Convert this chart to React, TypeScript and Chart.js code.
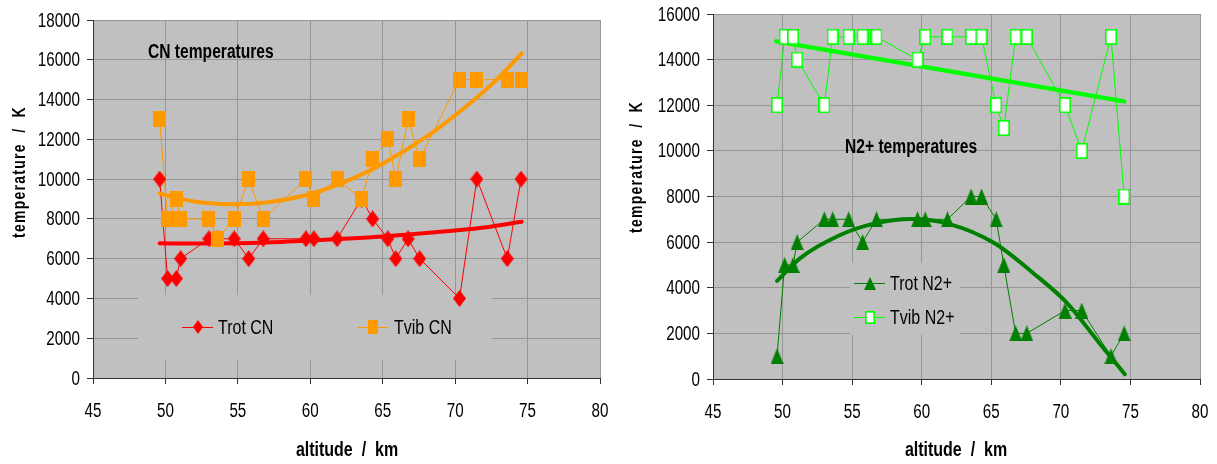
import React, { useEffect, useRef } from 'react';
import { Chart, registerables } from 'chart.js';
Chart.register(...registerables);

// ---------------- data ----------------
const altitudes = [49.6, 50.15, 50.75, 51.05, 53.0, 53.6, 54.75, 55.75, 56.75, 59.7, 60.25, 61.85, 63.55, 64.3, 65.35, 65.9, 66.75, 67.55, 70.3, 71.5, 73.6, 74.55];

const trotCN = [10000, 5000, 5000, 6000, 7000, 7000, 7000, 6000, 7000, 7000, 7000, 7000, 9000, 8000, 7000, 6000, 7000, 6000, 4000, 10000, 6000, 10000];
const tvibCN = [13000, 8000, 9000, 8000, 8000, 7000, 8000, 10000, 8000, 10000, 9000, 10000, 9000, 11000, 12000, 10000, 13000, 11000, 15000, 15000, 15000, 15000];
const trotN2 = [1000, 5000, 5000, 6000, 7000, 7000, 7000, 6000, 7000, 7000, 7000, 7000, 8000, 8000, 7000, 5000, 2000, 2000, 3000, 3000, 1000, 2000];
const tvibN2 = [12000, 15000, 15000, 14000, 12000, 15000, 15000, 15000, 15000, 14000, 15000, 15000, 15000, 15000, 12000, 11000, 15000, 15000, 12000, 10000, 15000, 8000];

// trend lines
const trotCNTrendX = [49.6, 52, 55, 58, 61, 64, 67, 70, 72, 74.6];
const trotCNTrendY = [6770, 6760, 6780, 6840, 6950, 7070, 7230, 7420, 7570, 7860];
const tvibCNTrendX = [49.6, 52, 54.7, 57, 60, 63, 65, 68.5, 70.5, 72.5, 74.6];
const tvibCNTrendY = [9280, 8870, 8730, 8830, 9250, 10050, 10770, 12380, 13500, 14750, 16320];
const trotN2TrendX = [49.6, 51.25, 54.1, 56.5, 59.25, 62, 65.15, 68, 70.4, 72.8, 74.6];
const trotN2TrendY = [4300, 5290, 6300, 6800, 7010, 6790, 5980, 4650, 3360, 1550, 210];
const tvibN2TrendX = [49.55, 74.55];
const tvibN2TrendY = [14800, 12170];

const xTickStep = 5;
const yTickStep = 2000;

const FONT = "'Liberation Sans', Arial, sans-serif";

function pts(xs: number[], ys: number[]) {
  return xs.map((x, i) => ({ x, y: ys[i] }));
}

function marker(kind: string, w: number, h: number, fill: string, stroke?: string) {
  const c = document.createElement('canvas');
  c.width = w;
  c.height = h;
  const ctx = c.getContext('2d')!;
  ctx.fillStyle = fill;
  ctx.beginPath();
  if (kind === 'diamond') {
    ctx.moveTo(w / 2, 0);
    ctx.lineTo(w, h / 2);
    ctx.lineTo(w / 2, h);
    ctx.lineTo(0, h / 2);
    ctx.closePath();
    ctx.fill();
  } else if (kind === 'triangle') {
    ctx.moveTo(w / 2, 0);
    ctx.lineTo(w, h);
    ctx.lineTo(0, h);
    ctx.closePath();
    ctx.fill();
  } else if (kind === 'square') {
    ctx.fillRect(0, 0, w, h);
  } else if (kind === 'open') {
    ctx.fillRect(0, 0, w, h);
    ctx.strokeStyle = stroke || '#0f0';
    ctx.lineWidth = 1.6;
    ctx.strokeRect(0.8, 0.8, w - 1.6, h - 1.6);
  }
  return c;
}

// draw horizontally condensed text (the reference uses a narrow face)
function narrowText(ctx: CanvasRenderingContext2D, text: string, x: number, y: number, font: string, sx: number, align: CanvasTextAlign, spacing = 0, rotate = 0) {
  ctx.save();
  ctx.translate(x, y);
  if (rotate) ctx.rotate(rotate);
  ctx.scale(sx, 1);
  ctx.font = font;
  ctx.textAlign = align;
  ctx.textBaseline = 'middle';
  ctx.fillStyle = '#000';
  try { (ctx as any).letterSpacing = spacing + 'px'; } catch (e) {}
  ctx.fillText(text, 0, 0);
  ctx.restore();
}

type Series = { ys: number[]; color: string; marker: HTMLCanvasElement };
type Trend = { xs: number[]; ys: number[]; color: string; width: number };
type LegendItem = { label: string; color: string; marker: HTMLCanvasElement; x0: number; x1: number; mx: number; y: number; tx: number };

type Spec = {
  W: number; H: number;
  area: { left: number; right: number; top: number; bottom: number };
  yMax: number;
  series: Series[];
  trends: Trend[];
  title: { text: string; x: number; y: number };
  legendBox: [number, number, number, number];
  legend: LegendItem[];
  yTitle: { x: number; y: number };
  xTitle: { x: number; y: number };
};

function build(canvas: HTMLCanvasElement, spec: Spec) {
  const { area } = spec;
  const datasets: any[] = [];
  spec.series.forEach((s) => {
    datasets.push({
      data: pts(altitudes, s.ys),
      showLine: false,
      pointStyle: s.marker,
      pointRadius: 7,
      borderColor: s.color,
      backgroundColor: s.color,
    });
  });
  spec.trends.forEach((t) => {
    datasets.push({
      data: pts(t.xs, t.ys),
      showLine: true,
      pointRadius: 0,
      borderColor: t.color,
      borderWidth: t.width,
      cubicInterpolationMode: 'monotone',
      borderCapStyle: 'round',
    });
  });
  spec.series.forEach((s) => {
    datasets.push({
      data: pts(altitudes, s.ys),
      showLine: true,
      pointRadius: 0,
      borderColor: s.color,
      borderWidth: 1,
      tension: 0,
    });
  });

  const deco = {
    id: 'deco',
    beforeDraw(chart: any) {
      const { ctx, chartArea: a } = chart;
      ctx.save();
      ctx.fillStyle = '#c0c0c0';
      ctx.fillRect(a.left, a.top, a.right - a.left, a.bottom - a.top);
      ctx.restore();
    },
    beforeDatasetsDraw(chart: any) {
      const ctx = chart.ctx;
      ctx.save();
      const [bx, by, bw, bh] = spec.legendBox;
      ctx.fillStyle = '#c0c0c0';
      ctx.fillRect(bx, by, bw, bh);
      spec.legend.forEach((it) => {
        ctx.strokeStyle = it.color;
        ctx.lineWidth = 1;
        ctx.beginPath();
        ctx.moveTo(it.x0, it.y + 0.5);
        ctx.lineTo(it.x1, it.y + 0.5);
        ctx.stroke();
        const m = it.marker;
        ctx.drawImage(m, Math.round(it.mx - m.width / 2), Math.round(it.y - m.height / 2));
        narrowText(ctx, it.label, it.tx, it.y + 1, `20px ${FONT}`, 0.8, 'left');
      });
      ctx.restore();
    },
    afterDraw(chart: any) {
      const ctx = chart.ctx;
      const xs = chart.scales.x;
      const ys = chart.scales.y;
      const a = chart.chartArea;
      // tick labels
      xs.ticks.forEach((t: any) => {
        narrowText(ctx, String(t.value), xs.getPixelForValue(t.value), a.bottom + 33, `20px ${FONT}`, 0.76, 'center');
      });
      ys.ticks.forEach((t: any) => {
        narrowText(ctx, String(t.value), a.left - 13, ys.getPixelForValue(t.value) + 1, `20px ${FONT}`, 0.76, 'right');
      });
      // titles
      narrowText(ctx, spec.title.text, spec.title.x, spec.title.y, `bold 20px ${FONT}`, 0.78, 'left');
      narrowText(ctx, 'altitude  /  km', spec.xTitle.x, spec.xTitle.y, `bold 20px ${FONT}`, 0.8, 'center');
      narrowText(ctx, 'temperature  /  K', spec.yTitle.x, spec.yTitle.y, `bold 18px ${FONT}`, 0.78, 'center', 1.6, -Math.PI / 2);
    },
  };

  return new Chart(canvas, {
    type: 'scatter',
    data: { datasets },
    plugins: [deco],
    options: {
      responsive: false,
      animation: false,
      events: [],
      layout: { padding: { left: 0, right: spec.W - area.right, top: area.top, bottom: 0 } },
      plugins: { legend: { display: false }, tooltip: { enabled: false }, title: { display: false } },
      scales: {
        x: {
          type: 'linear',
          min: 45,
          max: 80,
          ticks: { stepSize: xTickStep, display: false },
          grid: { color: '#969696', tickColor: '#333', tickLength: 6, lineWidth: 1, drawTicks: true },
          border: { color: '#333', width: 1 },
          afterFit(s: any) {
            s.height = spec.H - area.bottom;
            s.paddingLeft = 0;
            s.paddingRight = 0;
          },
        },
        y: {
          type: 'linear',
          min: 0,
          max: spec.yMax,
          ticks: { stepSize: yTickStep, display: false },
          grid: { color: '#969696', tickColor: '#333', tickLength: 6, lineWidth: 1, drawTicks: true },
          border: { color: '#333', width: 1 },
          afterFit(s: any) {
            s.width = area.left;
            s.paddingTop = 0;
            s.paddingBottom = 0;
          },
        },
      },
    } as any,
  });
}

function ChartCanvas({ make, left, W, H }: { make: () => Spec; left: number; W: number; H: number }) {
  const ref = useRef<HTMLCanvasElement>(null);
  useEffect(() => {
    const chart = build(ref.current!, make());
    return () => chart.destroy();
  }, []);
  return (
    <canvas
      ref={ref}
      width={W}
      height={H}
      style={{ position: 'absolute', left, top: 0, width: W, height: H }}
    />
  );
}

const H = 464;
const LW = 612;
const ROFF = 612;
const RW = 1217 - ROFF;

function leftSpec(): Spec {
  const red = marker('diamond', 13, 17, '#ff0000');
  const org = marker('square', 13, 16, '#ff9900');
  return {
    W: LW, H,
    area: { left: 93, right: 600, top: 20, bottom: 378 },
    yMax: 18000,
    series: [
      { ys: tvibCN, color: '#ff9900', marker: org },
      { ys: trotCN, color: '#ff0000', marker: red },
    ],
    trends: [
      { xs: tvibCNTrendX, ys: tvibCNTrendY, color: '#ff9900', width: 4 },
      { xs: trotCNTrendX, ys: trotCNTrendY, color: '#ff0000', width: 4 },
    ],
    title: { text: 'CN temperatures', x: 148, y: 52 },
    legendBox: [138, 295, 354, 65],
    legend: [
      { label: 'Trot CN', color: '#ff0000', marker: marker('diamond', 10, 14, '#ff0000'), x0: 182, x1: 213, mx: 198, y: 327, tx: 218 },
      { label: 'Tvib CN', color: '#ff9900', marker: marker('square', 10, 14, '#ff9900'), x0: 358, x1: 388, mx: 373, y: 327, tx: 394 },
    ],
    yTitle: { x: 20, y: 172 },
    xTitle: { x: 347, y: 450 },
  };
}

function rightSpec(): Spec {
  const tri = marker('triangle', 13, 16, '#008000');
  const open = marker('open', 12, 16, '#ffffff', '#00ff00');
  const o = ROFF;
  return {
    W: RW, H,
    area: { left: 713 - o, right: 1200 - o, top: 14, bottom: 379 },
    yMax: 16000,
    series: [
      { ys: tvibN2, color: '#00ff00', marker: open },
      { ys: trotN2, color: '#008000', marker: tri },
    ],
    trends: [
      { xs: tvibN2TrendX, ys: tvibN2TrendY, color: '#00ff00', width: 4.5 },
      { xs: trotN2TrendX, ys: trotN2TrendY, color: '#008000', width: 4 },
    ],
    title: { text: 'N2+ temperatures', x: 845 - o, y: 147 },
    legendBox: [850 - o, 263, 110, 72],
    legend: [
      { label: 'Trot N2+', color: '#008000', marker: marker('triangle', 12, 13, '#008000'), x0: 854 - o, x1: 885 - o, mx: 870 - o, y: 283, tx: 890 - o },
      { label: 'Tvib N2+', color: '#00ff00', marker: marker('open', 10, 13, '#ffffff', '#00ff00'), x0: 854 - o, x1: 885 - o, mx: 870 - o, y: 317, tx: 890 - o },
    ],
    yTitle: { x: 637 - o, y: 167 },
    xTitle: { x: 956 - o, y: 450 },
  };
}

export default function App() {
  return (
    <div style={{ position: 'absolute', left: 0, top: 0, width: 1217, height: 464, background: '#fff' }}>
      <ChartCanvas make={leftSpec} left={0} W={LW} H={H} />
      <ChartCanvas make={rightSpec} left={ROFF} W={RW} H={H} />
    </div>
  );
}
